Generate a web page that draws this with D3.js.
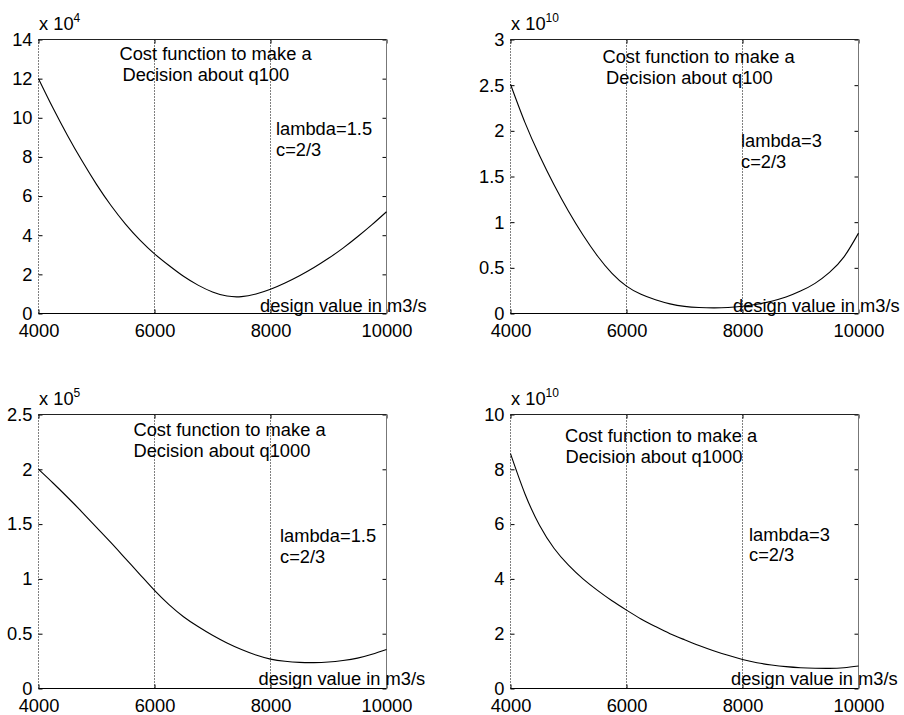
<!DOCTYPE html>
<html>
<head>
<meta charset="utf-8">
<script src="https://cdn.jsdelivr.net/npm/d3@7"></script>
<style>
  body { margin: 0; background: #fff; }
  svg { display: block; font-family: "Liberation Sans", Arial, Helvetica, sans-serif; }
</style>
</head>
<body>
<div id="chart"></div>
<script>
// design values (m3/s)
const designValues = [4000, 4250, 4500, 4750, 5000, 5250, 5500, 5750, 6000, 6250, 6500, 6750, 7000,
  7250, 7500, 7750, 8000, 8250, 8500, 8750, 9000, 9250, 9500, 9750, 10000];

// cost, q100, lambda=1.5 (x 10^4)
const costQ100L15 = [12.0, 10.5, 9.1, 7.8, 6.6, 5.52, 4.57, 3.75, 3.05, 2.45, 1.9, 1.45, 1.1,
  0.89, 0.86, 1.0, 1.24, 1.56, 1.93, 2.35, 2.82, 3.34, 3.92, 4.54, 5.2];
// cost, q100, lambda=3 (x 10^10)
const costQ100L3 = [2.51, 2.09, 1.73, 1.41, 1.12, 0.86, 0.63, 0.44, 0.30, 0.21, 0.15, 0.105, 0.078,
  0.066, 0.062, 0.066, 0.08, 0.102, 0.135, 0.18, 0.245, 0.33, 0.45, 0.62, 0.88];
// cost, q1000, lambda=1.5 (x 10^5)
const costQ1000L15 = [2.0, 1.875, 1.745, 1.61, 1.47, 1.33, 1.185, 1.04, 0.895, 0.765, 0.655, 0.565, 0.485,
  0.415, 0.355, 0.305, 0.268, 0.248, 0.238, 0.236, 0.242, 0.256, 0.277, 0.312, 0.356];
// cost, q1000, lambda=3 (x 10^10)
const costQ1000L3 = [8.57, 7.1, 5.96, 5.12, 4.5, 4.0, 3.58, 3.2, 2.86, 2.54, 2.26, 2.0, 1.78,
  1.57, 1.38, 1.21, 1.06, 0.94, 0.86, 0.8, 0.76, 0.74, 0.735, 0.76, 0.82];

const xTicks = [4000, 6000, 8000, 10000];
const dottedAt = [4000, 6000, 8000, 10000];

const yTicksA = [0, 2, 4, 6, 8, 10, 12, 14];
const yTicksB = [0, 0.5, 1, 1.5, 2, 2.5, 3];
const yTicksC = [0, 0.5, 1, 1.5, 2, 2.5];
const yTicksD = [0, 2, 4, 6, 8, 10];

const W = 904, H = 715;
const FONT = 18.3;
const PW = 348, PH = 274;

const panels = [
  { left: 38.5, top: 39.5, values: costQ100L15, ticks: yTicksA, exp: '4', q: 'q100', lambda: '1.5',
    cost: [81, 20.5, 84, 41.5], lam: [237.5, 95, 116], design: [221.5, 272.5] },
  { left: 510.5, top: 39.5, values: costQ100L3, ticks: yTicksB, exp: '10', q: 'q100', lambda: '3',
    cost: [92, 23.5, 95.5, 44], lam: [230.5, 107, 128], design: [222.5, 272] },
  { left: 38.5, top: 414.5, values: costQ1000L15, ticks: yTicksC, exp: '5', q: 'q1000', lambda: '1.5',
    cost: [95, 21.5, 95, 42.5], lam: [241.5, 127, 148], design: [220, 270.5] },
  { left: 510.5, top: 414.5, values: costQ1000L3, ticks: yTicksD, exp: '10', q: 'q1000', lambda: '3',
    cost: [54.5, 27, 55, 48], lam: [238.5, 126, 146.5], design: [220.5, 270.5] }
];

const svg = d3.select('#chart')
  .append('svg')
  .attr('width', W)
  .attr('height', H);

panels.forEach(p => {
  const g = svg.append('g').attr('transform', `translate(${p.left}, ${p.top})`);

  const xScale = d3.scaleLinear().domain([4000, 10000]).range([0, PW]);
  const yScale = d3.scaleLinear()
    .domain([0, p.ticks[p.ticks.length - 1]])
    .range([PH, 0]);

  // dotted grid lines
  g.selectAll('.vgrid')
    .data(dottedAt)
    .join('line')
    .attr('class', 'vgrid')
    .attr('x1', d => xScale(d)).attr('x2', d => xScale(d))
    .attr('y1', 0).attr('y2', PH)
    .attr('stroke', '#000')
    .attr('stroke-width', 1)
    .attr('stroke-dasharray', '1,2');

  // x axis
  const xAxisGroup = g.append('g').attr('transform', `translate(0, ${PH})`);
  xAxisGroup.call(d3.axisBottom(xScale).tickValues(xTicks).tickSizeInner(-4).tickSizeOuter(0)
    .tickPadding(8).tickFormat(d3.format('d')));
  g.append('g').call(d3.axisTop(xScale).tickValues(xTicks).tickSizeInner(-4).tickSizeOuter(0)
    .tickFormat(''));

  // y axis
  const yAxisGroup = g.append('g');
  yAxisGroup.call(d3.axisLeft(yScale).tickValues(p.ticks).tickSizeInner(-4).tickSizeOuter(0)
    .tickPadding(6).tickFormat(d => String(d)));
  g.append('g').attr('transform', `translate(${PW}, 0)`)
    .call(d3.axisRight(yScale).tickValues(p.ticks).tickSizeInner(-4).tickSizeOuter(0)
      .tickFormat(''));

  //axis styling
  g.selectAll('.domain').remove();
  g.selectAll('.tick line').attr('stroke', '#000');
  g.selectAll('.tick text')
    .attr('fill', '#000')
    .attr('font-size', FONT)
    .attr('font-family', null);
  xAxisGroup.selectAll('.tick text').attr('dy', '0.85em');

  // box
  g.append('line').attr('x1', 0).attr('x2', PW).attr('y1', 0).attr('y2', 0)
    .attr('stroke', '#222').attr('stroke-width', 1.2);
  g.append('line').attr('x1', 0).attr('x2', PW).attr('y1', PH).attr('y2', PH)
    .attr('stroke', '#000').attr('stroke-width', 1.2);
  g.append('line').attr('x1', PW).attr('x2', PW).attr('y1', 0).attr('y2', PH)
    .attr('stroke', '#777').attr('stroke-width', 1);

  // curve
  const line = d3.line()
    .x((d, i) => xScale(designValues[i]))
    .y(d => yScale(d))
    .curve(d3.curveNatural);
  g.append('path')
    .datum(p.values)
    .attr('d', line)
    .attr('fill', 'none')
    .attr('stroke', '#000')
    .attr('stroke-width', 1.1);

  // exponent label
  const expText = g.append('text')
    .attr('x', 0.5)
    .attr('y', -9.5)
    .attr('font-size', FONT);
  expText.append('tspan').text('x 10');
  expText.append('tspan').attr('dy', -8).attr('font-size', 12).text(p.exp);

  // annotations
  g.append('text').attr('x', p.cost[0]).attr('y', p.cost[1]).attr('font-size', FONT)
    .text('Cost function to make a');
  g.append('text').attr('x', p.cost[2]).attr('y', p.cost[3]).attr('font-size', FONT)
    .text(`Decision about ${p.q}`);
  g.append('text').attr('x', p.lam[0]).attr('y', p.lam[1]).attr('font-size', FONT)
    .text(`lambda=${p.lambda}`);
  g.append('text').attr('x', p.lam[0]).attr('y', p.lam[2]).attr('font-size', FONT)
    .text('c=2/3');
  g.append('text').attr('x', p.design[0]).attr('y', p.design[1]).attr('font-size', FONT)
    .text('design value in m3/s');
});
</script>
</body>
</html>
